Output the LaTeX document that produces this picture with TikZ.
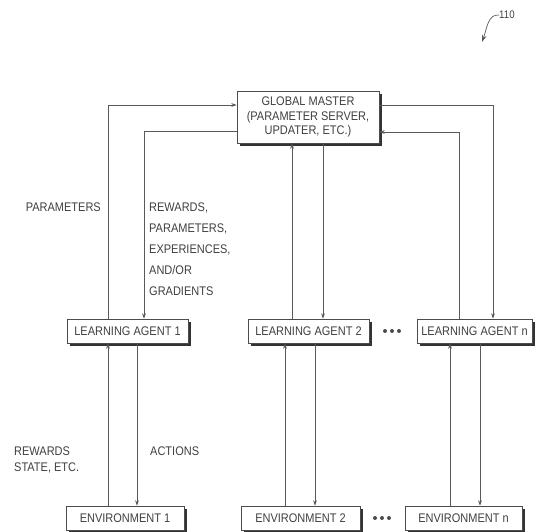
\documentclass[tikz,border=0pt]{standalone}
\usepackage{fontspec}
\setmainfont{Liberation Sans}[FakeStretch=0.88]
\usetikzlibrary{arrows.meta,calc}
\tikzset{
  box/.style={draw=black!70, line width=0.6pt, fill=white, inner sep=0pt, minimum height=24pt,
    text=black!75, font=\fontsize{12.5}{14.5}\selectfont, align=center},
  shade/.style={draw=black!80, line width=2.6pt},
  link/.style={draw=black!65, line width=0.7pt},
  arr/.style={link, -{Stealth[length=5.5pt,width=3.8pt]}},
  lbl/.style={inner sep=0pt, text=black!75, font=\fontsize{12.5}{21}\selectfont, align=left},
}
\newcommand{\boxshade}[1]{%
  \draw[shade] ($(#1.north east)+(1.5,3)$) -- ($(#1.south east)+(1.5,1.5)$) -- ($(#1.south west)+(3,1.5)$);}
\begin{document}
\begin{tikzpicture}[x=1pt,y=-1pt]
\useasboundingbox (0,0) rectangle (536,531);

% boxes
\node[box, minimum width=142pt, minimum height=52pt] (gm) at (308,117)
  {GLOBAL MASTER\\(PARAMETER SERVER,\\UPDATER, ETC.)};
\node[box, minimum width=121pt] (la1) at (127.5,331) {LEARNING AGENT 1};
\node[box, minimum width=121pt] (la2) at (308.5,331) {LEARNING AGENT 2};
\node[box, minimum width=115pt] (lan) at (474.5,331) {LEARNING AGENT n};
\node[box, minimum width=118pt] (en1) at (125,518) {ENVIRONMENT 1};
\node[box, minimum width=119pt] (en2) at (300.5,518) {ENVIRONMENT 2};
\node[box, minimum width=117pt] (enn) at (463.5,518) {ENVIRONMENT n};
\foreach \b in {gm,la1,la2,lan,en1,en2,enn} {\boxshade{\b}}

% master <-> agents
\draw[arr] (108,0 |- la1.north) -- (108,105) -- (gm.west |- 0,105);
\draw[arr] (gm.west |- 0,131) -- (144,131) -- (144,0 |- la1.north);
\draw[arr] (292,0 |- la2.north) -- (292,0 |- gm.south);
\draw[arr] (323,0 |- gm.south) -- (323,0 |- la2.north);
\draw[arr] (459,0 |- lan.north) -- (459,132) -- (gm.east |- 0,132);
\draw[arr] (gm.east |- 0,105) -- (493,105) -- (493,0 |- lan.north);

% agents <-> environments
\draw[arr] (108,0 |- en1.north) -- (108,0 |- la1.south);
\draw[arr] (137,0 |- la1.south) -- (137,0 |- en1.north);
\draw[arr] (285,0 |- en2.north) -- (285,0 |- la2.south);
\draw[arr] (315,0 |- la2.south) -- (315,0 |- en2.north);
\draw[arr] (450,0 |- enn.north) -- (450,0 |- lan.south);
\draw[arr] (480,0 |- lan.south) -- (480,0 |- enn.north);

% labels
\node[lbl, anchor=base east] (lp) at (101,211) {PARAMETERS};
\node[lbl, anchor=north west] (lr) at (149,203)
  {REWARDS,\\PARAMETERS,\\EXPERIENCES,\\AND/OR\\GRADIENTS};
\node[lbl, anchor=north west, font=\fontsize{12.5}{15.5}\selectfont] (ls) at (14,447)
  {REWARDS\\STATE, ETC.};
\node[lbl, anchor=north west] (la) at (150,447) {ACTIONS};

% ellipsis dots
\foreach \x in {385,392,399} {\fill[black!70] (\x,331) circle (2);}
\foreach \x in {375,382,389} {\fill[black!70] (\x,518) circle (2);}

% reference numeral
\node[lbl, anchor=west, font=\fontsize{11}{13}\selectfont] (ref) at (499,15) {110};
\coordinate (reftip) at (482,42);
\draw[link, -{Stealth[length=7pt,width=4.5pt]}] (ref.west) .. controls (488,14) and (487,28) .. (reftip);
\end{tikzpicture}
\end{document}
